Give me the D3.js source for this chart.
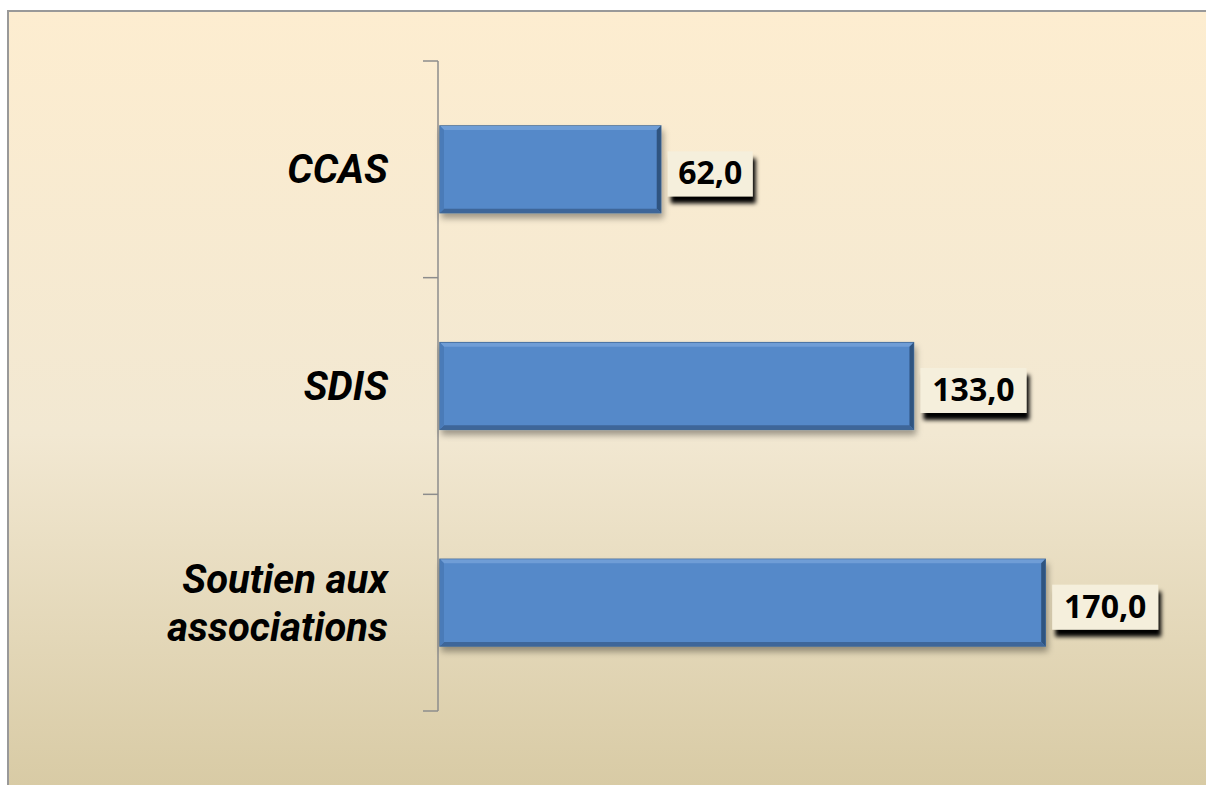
<!DOCTYPE html>
<html>
<head>
<meta charset="utf-8">
<script src="https://cdn.jsdelivr.net/npm/d3@7"></script>
<style>
  body { margin: 0; background: #fff; overflow: hidden; }
  svg { display: block; }
</style>
</head>
<body>
<div id="chart"></div>
<script>
// data
var categories = ["CCAS", "SDIS", "Soutien aux associations"];
var values = [62.0, 133.0, 170.0];
var labelLines = [["CCAS"], ["SDIS"], ["Soutien aux", "associations"]];

var W = 1206, H = 785;
var margin = { top: 61, left: 438, right: 46, bottom: 74 };

var svg = d3.select("#chart").append("svg")
    .attr("width", W)
    .attr("height", H);

var defs = svg.append("defs");

// background gradient
var bg = defs.append("linearGradient")
    .attr("id", "bg").attr("x1", 0).attr("y1", 0).attr("x2", 0).attr("y2", 1);
bg.append("stop").attr("offset", "0%").attr("stop-color", "#fdedd0");
bg.append("stop").attr("offset", "50%").attr("stop-color", "#f2e8d2");
bg.append("stop").attr("offset", "100%").attr("stop-color", "#d3c59c");

// bar shadow
var sh = defs.append("filter").attr("id", "barShadow")
    .attr("x", "-5%").attr("y", "-20%").attr("width", "115%").attr("height", "150%");
sh.append("feDropShadow").attr("dx", 2).attr("dy", 5).attr("stdDeviation", 3)
    .attr("flood-color", "#000").attr("flood-opacity", 0.35);

// label shadow
var lsh = defs.append("filter").attr("id", "lblShadow")
    .attr("x", "-10%").attr("y", "-20%").attr("width", "130%").attr("height", "170%");
lsh.append("feDropShadow").attr("dx", 3).attr("dy", 7).attr("stdDeviation", 2)
    .attr("flood-color", "#000").attr("flood-opacity", 1);

// frame
svg.append("rect")
    .attr("x", 8).attr("y", 11)
    .attr("width", W + 60).attr("height", H + 60)
    .attr("fill", "url(#bg)")
    .attr("stroke", "#999").attr("stroke-width", 2);

// scales
var x = d3.scaleLinear().domain([0, 200]).range([margin.left, 1150]);
var y = d3.scaleBand().domain(categories)
    .range([margin.top, H - margin.bottom])
    .paddingInner(0.6).paddingOuter(0.3);

// axis with ticks at band boundaries
var bounds = d3.range(categories.length + 1).map(function(i) {
    return y.range()[0] + i * (y.range()[1] - y.range()[0]) / categories.length;
});
var axis = svg.append("g").attr("class", "axis");
axis.append("line")
    .attr("x1", margin.left).attr("x2", margin.left)
    .attr("y1", bounds[0]).attr("y2", bounds[bounds.length - 1])
    .attr("stroke", "#8c8c8c").attr("stroke-width", 1.5);
axis.selectAll(".tick").data(bounds).enter().append("line")
    .attr("x1", margin.left - 15).attr("x2", margin.left)
    .attr("y1", function(d) { return d; }).attr("y2", function(d) { return d; })
    .attr("stroke", "#8c8c8c").attr("stroke-width", 1.5);

// category labels
var catLbl = svg.append("g");
categories.forEach(function(c, i) {
    var lines = labelLines[i];
    var cy = y(c) + y.bandwidth() / 2;
    var lh = 48;
    lines.forEach(function(l, j) {
        catLbl.append("text")
            .attr("x", 388)
            .attr("y", cy + 14 + (j - (lines.length - 1) / 2) * lh)
            .attr("text-anchor", "end")
            .attr("font-family", "Roboto, sans-serif")
            .attr("font-weight", "bold")
            .attr("font-style", "italic")
            .attr("font-size", 40)
            .attr("fill", "#000")
            .text(l);
    });
});

// bars
var bars = svg.selectAll(".bar").data(values).enter().append("g")
    .attr("class", "bar");
var bev = 4;
bars.append("rect")
    .attr("x", x(0) + 2)
    .attr("y", function(d, i) { return y(categories[i]); })
    .attr("width", function(d) { return x(d) - x(0); })
    .attr("height", y.bandwidth())
    .attr("fill", "#5589c9")
    .attr("stroke", "#3f6796")
    .attr("stroke-width", 1.5)
    .attr("filter", "url(#barShadow)");
// top bevel (light)
bars.append("path")
    .attr("d", function(d, i) {
        var x0 = x(0) + 2, x1 = x(d) + 2, y0 = y(categories[i]);
        return "M" + x0 + "," + y0 + "L" + x1 + "," + y0 + "L" + (x1 - bev) + "," + (y0 + bev) +
            "L" + (x0 + bev) + "," + (y0 + bev) + "Z";
    })
    .attr("fill", "#6f9dd6");
// right bevel (dark)
bars.append("path")
    .attr("d", function(d, i) {
        var x1 = x(d) + 2, y0 = y(categories[i]), y1 = y0 + y.bandwidth();
        return "M" + x1 + "," + y0 + "L" + x1 + "," + y1 + "L" + (x1 - bev) + "," + (y1 - bev) +
            "L" + (x1 - bev) + "," + (y0 + bev) + "Z";
    })
    .attr("fill", "#2f5480");
// bottom bevel (dark)
bars.append("path")
    .attr("d", function(d, i) {
        var x0 = x(0) + 2, x1 = x(d) + 2, y1 = y(categories[i]) + y.bandwidth();
        return "M" + x0 + "," + y1 + "L" + x1 + "," + y1 + "L" + (x1 - bev) + "," + (y1 - bev) +
            "L" + (x0 + bev) + "," + (y1 - bev) + "Z";
    })
    .attr("fill", "#3e6699");
// left bevel
bars.append("path")
    .attr("d", function(d, i) {
        var x0 = x(0) + 2, y0 = y(categories[i]), y1 = y0 + y.bandwidth();
        return "M" + x0 + "," + y0 + "L" + (x0 + bev) + "," + (y0 + bev) + "L" + (x0 + bev) + "," + (y1 - bev) +
            "L" + x0 + "," + y1 + "Z";
    })
    .attr("fill", "#4a7bb8");

// value labels
var fmt = function(v) { return d3.format(".1f")(v).replace(".", ","); };
var boxW = function(d) { return fmt(d).length * 21 + 1; };
var lbls = svg.selectAll(".vlbl").data(values).enter().append("g")
    .attr("class", "vlbl")
    .attr("transform", function(d, i) {
        return "translate(" + (x(d) + 9) + "," + (y(categories[i]) + y.bandwidth() / 2) + ")";
    });
lbls.append("rect")
    .attr("x", 0)
    .attr("y", -18)
    .attr("width", boxW)
    .attr("height", 45)
    .attr("fill", "#f5efdc")
    .attr("filter", "url(#lblShadow)");
lbls.append("text")
    .attr("x", function(d) { return boxW(d) / 2; })
    .attr("y", 15)
    .attr("text-anchor", "middle")
    .attr("font-family", "'Open Sans', sans-serif")
    .attr("font-weight", "bold")
    .attr("font-size", 32)
    .attr("fill", "#000")
    .text(fmt);
</script>
</body>
</html>
